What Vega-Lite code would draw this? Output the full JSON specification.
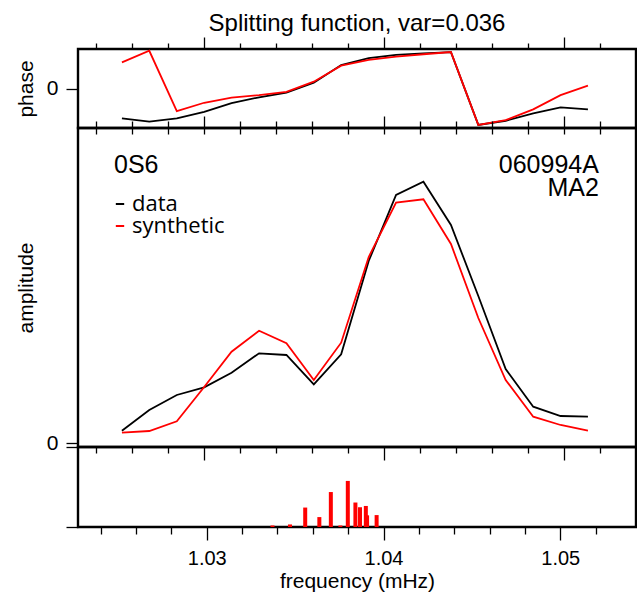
{
  "$schema": "https://vega.github.io/schema/vega-lite/v6.json",
  "background": "white",
  "padding": {"left": 14, "top": 11, "right": 0, "bottom": 0},
  "spacing": 0,
  "bounds": "flush",
  "config": {
    "view": {"stroke": "black", "strokeWidth": 2.4},
    "axis": {
      "domain": false, "grid": false, "tickColor": "black", "tickWidth": 1.3,
      "labelFont": "Liberation Sans", "labelFontSize": 20, "labelColor": "black",
      "titleFont": "Liberation Sans", "titleFontSize": 21, "titleFontWeight": "normal", "titleColor": "black"
    }
  },
  "datasets": {
    "lines": [
      {"f": 1.02544, "series": "data", "phase": -136, "amp": 0.123},
      {"f": 1.02696, "series": "data", "phase": -151, "amp": 0.33},
      {"f": 1.02849, "series": "data", "phase": -136, "amp": 0.48},
      {"f": 1.03001, "series": "data", "phase": -106, "amp": 0.557},
      {"f": 1.03153, "series": "data", "phase": -67, "amp": 0.703},
      {"f": 1.03306, "series": "data", "phase": -40, "amp": 0.897},
      {"f": 1.03458, "series": "data", "phase": -19, "amp": 0.88},
      {"f": 1.0361, "series": "data", "phase": 26, "amp": 0.587},
      {"f": 1.03762, "series": "data", "phase": 107, "amp": 0.887},
      {"f": 1.03915, "series": "data", "phase": 138, "amp": 1.82},
      {"f": 1.04067, "series": "data", "phase": 153, "amp": 2.48},
      {"f": 1.04219, "series": "data", "phase": 160, "amp": 2.613},
      {"f": 1.04372, "series": "data", "phase": 166, "amp": 2.18},
      {"f": 1.04524, "series": "data", "phase": -166, "amp": 1.47},
      {"f": 1.04676, "series": "data", "phase": -147, "amp": 0.74},
      {"f": 1.04829, "series": "data", "phase": -113, "amp": 0.363},
      {"f": 1.04981, "series": "data", "phase": -86, "amp": 0.27},
      {"f": 1.05133, "series": "data", "phase": -95, "amp": 0.263},
      {"f": 1.02544, "series": "synthetic", "phase": 119, "amp": 0.103},
      {"f": 1.02696, "series": "synthetic", "phase": 172, "amp": 0.12},
      {"f": 1.02849, "series": "synthetic", "phase": -103, "amp": 0.217},
      {"f": 1.03001, "series": "synthetic", "phase": -65, "amp": 0.56},
      {"f": 1.03153, "series": "synthetic", "phase": -42, "amp": 0.913},
      {"f": 1.03306, "series": "synthetic", "phase": -30, "amp": 1.123},
      {"f": 1.03458, "series": "synthetic", "phase": -15, "amp": 0.997},
      {"f": 1.0361, "series": "synthetic", "phase": 31, "amp": 0.63},
      {"f": 1.03762, "series": "synthetic", "phase": 104, "amp": 1.003},
      {"f": 1.03915, "series": "synthetic", "phase": 130, "amp": 1.86},
      {"f": 1.04067, "series": "synthetic", "phase": 145, "amp": 2.403},
      {"f": 1.04219, "series": "synthetic", "phase": 156, "amp": 2.437},
      {"f": 1.04372, "series": "synthetic", "phase": 166, "amp": 1.99},
      {"f": 1.04524, "series": "synthetic", "phase": -166, "amp": 1.25},
      {"f": 1.04676, "series": "synthetic", "phase": -144, "amp": 0.63},
      {"f": 1.04829, "series": "synthetic", "phase": -95, "amp": 0.263},
      {"f": 1.04981, "series": "synthetic", "phase": -30, "amp": 0.18},
      {"f": 1.05133, "series": "synthetic", "phase": 13, "amp": 0.123}
    ],
    "peaks": [
      {"f": 1.03372, "power": 0.019},
      {"f": 1.03471, "power": 0.032},
      {"f": 1.03557, "power": 0.243},
      {"f": 1.03637, "power": 0.124},
      {"f": 1.03702, "power": 0.437},
      {"f": 1.03756, "power": 0.019},
      {"f": 1.03798, "power": 0.576},
      {"f": 1.03841, "power": 0.306},
      {"f": 1.03867, "power": 0.247},
      {"f": 1.039, "power": 0.263},
      {"f": 1.03907, "power": 0.146},
      {"f": 1.03961, "power": 0.149}
    ]
  },
  "resolve": {"scale": {"x": "independent", "y": "independent"}, "legend": {"color": "independent"}},
  "vconcat": [
    {
      "width": 558, "height": 79,
      "title": {"text": "Splitting function, var=0.036", "anchor": "middle", "frame": "group", "font": "Liberation Sans", "fontSize": 24, "fontWeight": "normal", "color": "black", "offset": 0},
      "data": {"name": "lines"},
      "mark": {"type": "line", "strokeWidth": 1.8},
      "encoding": {
        "x": {"field": "f", "type": "quantitative", "scale": {"domain": [1.023, 1.054], "nice": false, "zero": false},
          "axis": {"orient": "top", "values": [1.024, 1.026, 1.028, 1.03, 1.032, 1.034, 1.036, 1.038, 1.04, 1.042, 1.044, 1.046, 1.048, 1.05, 1.052], "labels": false, "title": null,
            "tickSize": {"condition": {"test": "abs(datum.value*100 - round(datum.value*100)) < 0.001", "value": 12}, "value": 6}}},
        "y": {"field": "phase", "type": "quantitative", "scale": {"domain": [-180, 180], "nice": false, "zero": false},
          "axis": {"values": [0], "format": ".0f", "title": "phase", "tickSize": 12, "labelPadding": 8, "labelFontSize": 21, "titlePadding": 10}},
        "color": {"field": "series", "type": "nominal", "scale": {"domain": ["data", "synthetic"], "range": ["black", "#ff0000"]}, "legend": null}
      }
    },
    {
      "width": 558, "height": 319,
      "resolve": {"axis": {"x": "independent", "y": "independent"}},
      "layer": [
        {
          "data": {"name": "lines"},
          "transform": [{"filter": "datum.series === 'data'"}],
          "mark": {"type": "line", "strokeWidth": 1.8},
          "encoding": {
            "x": {"field": "f", "type": "quantitative", "scale": {"domain": [1.023, 1.054], "nice": false, "zero": false},
              "axis": {"orient": "top", "offset": -6, "values": [1.024, 1.026, 1.028, 1.03, 1.032, 1.034, 1.036, 1.038, 1.04, 1.042, 1.044, 1.046, 1.048, 1.05, 1.052], "labels": false, "title": null,
                "tickSize": {"condition": {"test": "abs(datum.value*100 - round(datum.value*100)) < 0.001", "value": 18}, "value": 13}}},
            "y": {"field": "amp", "type": "quantitative", "scale": {"domain": [-0.04, 3.15], "nice": false, "zero": false},
              "axis": {"values": [0], "format": ".0f", "title": "amplitude", "tickSize": 12, "labelPadding": 8, "labelFontSize": 21, "titlePadding": 10}},
            "color": {"field": "series", "type": "nominal", "scale": {"domain": ["data", "synthetic"], "range": ["black", "#ff0000"]},
              "legend": {"orient": "none", "legendX": 31, "legendY": 65, "title": null, "symbolType": "stroke", "symbolSize": 70, "symbolStrokeWidth": 2,
                "labelFont": "Open Sans", "labelFontSize": 22, "labelOffset": 1, "rowPadding": 0,
                "encode": {"labels": {"fill": {"condition": {"test": "datum.value === 'synthetic'", "value": "#ff0000"}, "value": "black"}}}}}
          }
        },
        {
          "data": {"name": "lines"},
          "transform": [{"filter": "datum.series === 'synthetic'"}],
          "mark": {"type": "line", "strokeWidth": 1.8},
          "encoding": {
            "x": {"field": "f", "type": "quantitative", "scale": {"domain": [1.023, 1.054], "nice": false, "zero": false},
              "axis": {"orient": "bottom", "values": [1.024, 1.026, 1.028, 1.03, 1.032, 1.034, 1.036, 1.038, 1.04, 1.042, 1.044, 1.046, 1.048, 1.05, 1.052], "labels": false, "title": null,
                "tickSize": {"condition": {"test": "abs(datum.value*100 - round(datum.value*100)) < 0.001", "value": 13}, "value": 6}}},
            "y": {"field": "amp", "type": "quantitative", "scale": {"domain": [-0.04, 3.15], "nice": false, "zero": false}, "axis": null},
            "color": {"field": "series", "type": "nominal", "scale": {"domain": ["data", "synthetic"], "range": ["black", "#ff0000"]}}
          }
        },
        {
          "data": {"values": [{}]},
          "mark": {"type": "text", "text": "0S6", "align": "left", "baseline": "alphabetic", "font": "Liberation Sans", "fontSize": 25, "color": "black"},
          "encoding": {
            "x": {"datum": 1.025, "type": "quantitative", "scale": {"domain": [1.023, 1.054], "nice": false, "zero": false}, "axis": null},
            "y": {"datum": 2.7, "type": "quantitative", "scale": {"domain": [-0.04, 3.15], "nice": false, "zero": false}, "axis": null}
          }
        },
        {
          "data": {"values": [{}]},
          "mark": {"type": "text", "text": ["060994A", "MA2"], "align": "right", "baseline": "alphabetic", "lineHeight": 23, "font": "Liberation Sans", "fontSize": 25, "color": "black"},
          "encoding": {
            "x": {"datum": 1.05194, "type": "quantitative", "scale": {"domain": [1.023, 1.054], "nice": false, "zero": false}, "axis": null},
            "y": {"datum": 2.7, "type": "quantitative", "scale": {"domain": [-0.04, 3.15], "nice": false, "zero": false}, "axis": null}
          }
        }
      ]
    },
    {
      "width": 558, "height": 80,
      "data": {"name": "peaks"},
      "mark": {"type": "bar", "color": "#ff0000", "size": 4},
      "encoding": {
        "x": {"field": "f", "type": "quantitative", "scale": {"domain": [1.023, 1.054], "nice": false, "zero": false},
          "axis": {"orient": "bottom", "values": [1.024, 1.026, 1.028, 1.03, 1.032, 1.034, 1.036, 1.038, 1.04, 1.042, 1.044, 1.046, 1.048, 1.05, 1.052],
            "labelExpr": "abs(datum.value*100 - round(datum.value*100)) < 0.001 ? format(datum.value, '.2f') : ''",
            "labelOverlap": false, "labelFlush": false, "labelPadding": 8, "title": "frequency (mHz)", "titlePadding": 2,
            "tickSize": {"condition": {"test": "abs(datum.value*100 - round(datum.value*100)) < 0.001", "value": 13}, "value": 7}}},
        "y": {"field": "power", "type": "quantitative", "scale": {"domain": [0, 1], "nice": false, "zero": false},
          "axis": {"values": [0, 1], "labels": false, "title": null, "tickSize": 12}}
      }
    }
  ]
}
